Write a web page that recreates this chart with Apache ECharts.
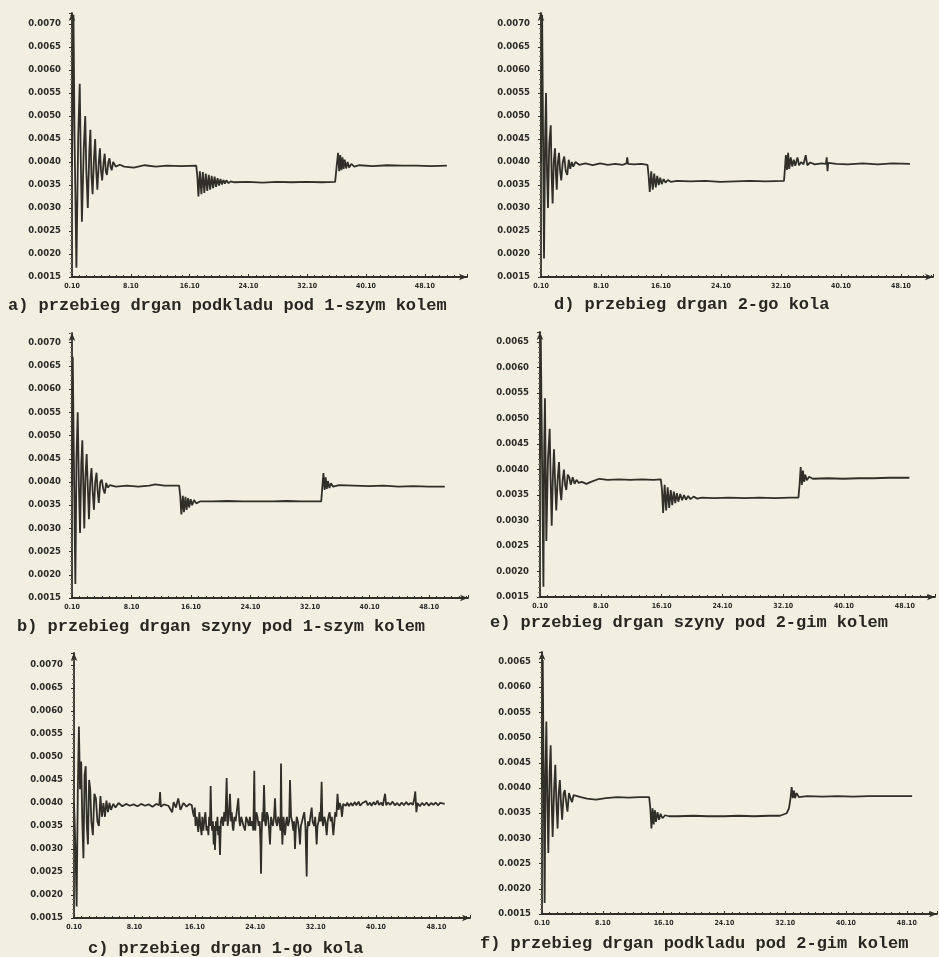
<!DOCTYPE html>
<html><head><meta charset="utf-8">
<script src="https://cdn.jsdelivr.net/npm/echarts@6/dist/echarts.min.js"></script>
<style>html,body{margin:0;padding:0;background:#f2efe1;}#c{width:939px;height:957px;}</style>
</head><body><div id="c"></div>
<script>
// time [s] , displacement values
const seriesA = [[0.1,0.0039],[0.3,0.0072],[0.45,0.0045],[0.7,0.0017],[0.95,0.0046],[1.15,0.0057],[1.3,0.0040],[1.45,0.0027],[1.7,0.0043],[1.9,0.0050],[2.05,0.0038],[2.25,0.0030],[2.45,0.0042],[2.6,0.0047],[2.75,0.0037],[2.9,0.0033],[3.1,0.0041],[3.25,0.0045],[3.4,0.0038],[3.55,0.0034],[3.75,0.0040],[3.9,0.0043],[4.05,0.0038],[4.2,0.0036],[4.4,0.0040],[4.55,0.00418],[4.7,0.0038],[4.85,0.00372],[5.05,0.0040],[5.2,0.00408],[5.35,0.0039],[5.5,0.00382],[5.7,0.0040],[5.85,0.00398],[6.05,0.0039],[6.25,0.00386],[6.6,0.00394],[7.2,0.0039],[8.5,0.00388],[10,0.00393],[11.5,0.0039],[13,0.00392],[15,0.00391],[17.0,0.00392],[17.15,0.0037],[17.3,0.00325],[17.5,0.0038],[17.7,0.0033],[17.9,0.00378],[18.1,0.00333],[18.3,0.00375],[18.5,0.00337],[18.7,0.00372],[18.9,0.0034],[19.1,0.0037],[19.3,0.00343],[19.5,0.00368],[19.7,0.00346],[19.9,0.00365],[20.1,0.00349],[20.3,0.00363],[20.5,0.00351],[20.7,0.00361],[20.9,0.00353],[21.1,0.0036],[21.4,0.00354],[21.7,0.00358],[22.2,0.00356],[24,0.00357],[26,0.00355],[28,0.00357],[30,0.00356],[32,0.00357],[34,0.00356],[35.9,0.00357],[36.1,0.0039],[36.3,0.0042],[36.45,0.0038],[36.6,0.00415],[36.75,0.00382],[36.9,0.0041],[37.05,0.00385],[37.2,0.00405],[37.4,0.00386],[37.6,0.004],[37.8,0.00388],[38.1,0.00396],[38.5,0.0039],[39.2,0.00393],[41,0.00391],[43,0.00393],[45,0.00392],[47,0.00392],[49,0.00391],[51.1,0.00392]];

const seriesB = [[0.1,0.0039],[0.2,0.0067],[0.35,0.0045],[0.55,0.0018],[0.7,0.0045],[0.87,0.0055],[1.02,0.0040],[1.18,0.0029],[1.35,0.0044],[1.49,0.0049],[1.62,0.0039],[1.75,0.0030],[1.9,0.0041],[2.07,0.0046],[2.22,0.0039],[2.38,0.0032],[2.55,0.0040],[2.72,0.0043],[2.88,0.0038],[3.05,0.0034],[3.22,0.0040],[3.4,0.0042],[3.55,0.0038],[3.7,0.00355],[3.9,0.004],[4.1,0.00405],[4.3,0.00385],[4.5,0.00375],[4.7,0.00398],[4.9,0.00388],[5.2,0.00393],[6,0.0039],[7.5,0.00392],[9,0.0039],[10.5,0.00392],[11.3,0.00395],[12.5,0.00392],[14.5,0.00392],[14.65,0.0037],[14.8,0.0033],[15.0,0.0037],[15.15,0.00335],[15.35,0.00368],[15.5,0.0034],[15.7,0.00365],[15.85,0.00345],[16.05,0.00363],[16.25,0.0035],[16.5,0.00361],[16.8,0.00354],[17.3,0.00358],[19,0.00358],[21,0.00359],[23,0.00358],[25,0.00358],[27,0.00358],[29,0.00359],[31,0.00358],[33.6,0.00358],[33.75,0.0039],[33.9,0.00419],[34.05,0.00383],[34.2,0.0041],[34.35,0.00385],[34.5,0.00402],[34.7,0.00387],[34.9,0.00397],[35.2,0.0039],[36,0.00393],[38,0.00392],[40,0.00391],[42,0.00392],[44,0.0039],[46,0.00391],[48,0.0039],[50.2,0.0039]];

const seriesC = [[0.1,0.0040],[0.3,0.0030],[0.45,0.00175],[0.6,0.0042],[0.75,0.00566],[0.9,0.0043],[1.05,0.0049],[1.2,0.0036],[1.35,0.0028],[1.5,0.0046],[1.65,0.0048],[1.8,0.0035],[1.95,0.0031],[2.1,0.0045],[2.25,0.0043],[2.4,0.0036],[2.6,0.0033],[2.8,0.0042],[3.0,0.0041],[3.2,0.0036],[3.4,0.0035],[3.6,0.00415],[3.8,0.0037],[4.0,0.004],[4.2,0.0037],[4.4,0.00405],[4.6,0.0038],[4.8,0.004],[5.0,0.00385],[5.3,0.00398],[5.6,0.0039],[6,0.004],[6.5,0.00393],[7,0.00398],[7.5,0.00394],[8,0.00397],[8.5,0.00393],[9,0.00398],[9.5,0.00394],[10,0.00397],[10.5,0.00392],[11,0.00398],[11.4,0.00395],[11.5,0.00424],[11.6,0.00392],[12,0.00397],[12.6,0.00394],[13.1,0.0038],[13.3,0.00402],[13.6,0.0039],[13.9,0.0041],[14.2,0.00385],[14.6,0.004],[15,0.00392],[15.4,0.00398],[15.7,0.00395],[15.85,0.0038],[16.0,0.0037],[16.1,0.0039],[16.2,0.0035],[16.35,0.0037],[16.56,0.00337],[16.7,0.0038],[16.85,0.0035],[17.0,0.0033],[17.1,0.0037],[17.22,0.0034],[17.35,0.0036],[17.5,0.0038],[17.65,0.0034],[17.8,0.0035],[17.9,0.0033],[18.0,0.0037],[18.1,0.0035],[18.2,0.00437],[18.3,0.0036],[18.4,0.0034],[18.5,0.0036],[18.6,0.0031],[18.7,0.0035],[18.77,0.00298],[18.9,0.0036],[19.0,0.0034],[19.1,0.0037],[19.2,0.0033],[19.3,0.0035],[19.44,0.00287],[19.55,0.0036],[19.7,0.0037],[19.85,0.0035],[20.0,0.0038],[20.15,0.0036],[20.32,0.00454],[20.45,0.0035],[20.6,0.0037],[20.76,0.0042],[20.9,0.0036],[21.0,0.0038],[21.1,0.0035],[21.2,0.0034],[21.35,0.0037],[21.5,0.0036],[21.65,0.0038],[21.86,0.0041],[22.0,0.0036],[22.1,0.0035],[22.25,0.0037],[22.4,0.0036],[22.55,0.0035],[22.75,0.0034],[22.9,0.0037],[23.1,0.0036],[23.25,0.0035],[23.4,0.0037],[23.5,0.0035],[23.7,0.0036],[23.85,0.0034],[23.98,0.0047],[24.05,0.0036],[24.1,0.0034],[24.25,0.0038],[24.4,0.0037],[24.55,0.0035],[24.7,0.0036],[24.8,0.0031],[24.87,0.00246],[24.95,0.0033],[25.05,0.0038],[25.15,0.0036],[25.27,0.00439],[25.4,0.0036],[25.5,0.0035],[25.65,0.0038],[25.8,0.0037],[25.95,0.0034],[26.06,0.0031],[26.2,0.0037],[26.3,0.0036],[26.45,0.0035],[26.6,0.0037],[26.72,0.0041],[26.85,0.0036],[27.0,0.0035],[27.15,0.0037],[27.3,0.0036],[27.45,0.0034],[27.52,0.00486],[27.6,0.0036],[27.7,0.0031],[27.85,0.0037],[27.95,0.0035],[28.05,0.0033],[28.2,0.0036],[28.3,0.0037],[28.45,0.0035],[28.6,0.0036],[28.71,0.0045],[28.85,0.0037],[29.0,0.0036],[29.15,0.0034],[29.25,0.0036],[29.37,0.003],[29.5,0.0035],[29.6,0.0037],[29.75,0.0036],[29.9,0.0034],[30.03,0.0031],[30.15,0.0035],[30.3,0.0036],[30.45,0.0037],[30.6,0.0038],[30.75,0.0035],[30.92,0.0024],[31.0,0.0034],[31.1,0.0036],[31.25,0.0035],[31.4,0.0037],[31.58,0.0039],[31.7,0.0036],[31.9,0.0035],[32.05,0.0037],[32.15,0.0034],[32.24,0.0031],[32.35,0.0035],[32.5,0.0036],[32.65,0.0038],[32.75,0.0036],[32.9,0.00446],[33.0,0.0036],[33.1,0.0035],[33.25,0.0037],[33.4,0.0036],[33.57,0.0033],[33.7,0.0036],[33.8,0.0037],[33.95,0.0038],[34.1,0.0036],[34.25,0.0037],[34.45,0.0033],[34.6,0.0036],[34.7,0.0038],[34.85,0.0037],[35.0,0.0042],[35.15,0.00385],[35.3,0.004],[35.45,0.00392],[35.6,0.0037],[35.75,0.00398],[35.9,0.00402],[36.1,0.00394],[36.3,0.00401],[36.5,0.00393],[36.8,0.004],[37.0,0.00394],[37.3,0.00402],[37.5,0.00395],[37.8,0.00403],[38.0,0.00394],[38.3,0.004],[38.5,0.00396],[38.8,0.00404],[39.0,0.00395],[39.3,0.00401],[39.5,0.00394],[39.8,0.00402],[40.0,0.00396],[40.3,0.00405],[40.5,0.00396],[40.8,0.00401],[41.0,0.00394],[41.2,0.00392],[41.3,0.0042],[41.45,0.00395],[41.7,0.00401],[42,0.00396],[42.3,0.00403],[42.6,0.00395],[42.9,0.004],[43.2,0.00394],[43.5,0.00401],[43.8,0.00395],[44.1,0.00402],[44.4,0.00396],[44.7,0.004],[45.0,0.00396],[45.2,0.00412],[45.3,0.00425],[45.45,0.0038],[45.6,0.004],[45.9,0.00393],[46.2,0.004],[46.5,0.00395],[46.8,0.00401],[47.1,0.00394],[47.4,0.004],[47.7,0.00396],[48,0.00401],[48.3,0.00395],[48.6,0.004],[49.2,0.00398]];

const seriesD = [[0.1,0.0040],[0.25,0.0072],[0.4,0.0040],[0.5,0.0019],[0.65,0.0045],[0.77,0.0055],[0.9,0.0038],[1.03,0.0030],[1.2,0.0044],[1.4,0.0048],[1.52,0.0037],[1.65,0.0031],[1.8,0.0040],[1.97,0.0043],[2.1,0.0037],[2.2,0.0034],[2.35,0.0040],[2.5,0.0042],[2.65,0.0038],[2.8,0.0036],[3.0,0.0040],[3.2,0.00412],[3.4,0.0038],[3.6,0.00372],[3.8,0.00405],[4.0,0.00385],[4.2,0.004],[4.4,0.0039],[4.7,0.004],[5.2,0.00394],[6,0.00397],[7,0.00393],[8,0.00397],[9,0.00394],[10,0.00396],[11,0.00394],[11.5,0.00397],[11.6,0.0041],[11.7,0.00396],[12.5,0.00395],[13.5,0.00396],[14.3,0.00394],[14.45,0.0037],[14.6,0.00335],[14.8,0.0038],[15.0,0.0034],[15.2,0.00375],[15.4,0.00345],[15.6,0.0037],[15.8,0.0035],[16.0,0.00366],[16.2,0.00352],[16.45,0.00363],[16.7,0.00355],[17,0.00361],[17.4,0.00357],[18.2,0.00359],[20,0.00358],[22,0.00359],[24,0.00357],[26,0.00358],[28,0.00359],[30,0.00358],[32.5,0.00359],[32.6,0.0038],[32.75,0.00415],[32.9,0.00383],[33.05,0.0042],[33.2,0.00385],[33.4,0.0041],[33.6,0.0039],[33.8,0.00405],[34.0,0.00392],[34.3,0.0041],[34.5,0.00393],[34.8,0.004],[35.1,0.00395],[35.4,0.00415],[35.6,0.00393],[36,0.00399],[36.6,0.00395],[37.5,0.00397],[38.1,0.00396],[38.2,0.0041],[38.3,0.0038],[38.4,0.00398],[39.5,0.00396],[41,0.00395],[43,0.00397],[45,0.00395],[47,0.00397],[49.3,0.00396]];

const seriesE = [[0.1,0.0042],[0.2,0.0066],[0.35,0.0045],[0.55,0.0017],[0.65,0.0044],[0.75,0.0054],[0.85,0.0040],[0.93,0.0026],[1.15,0.0042],[1.37,0.0048],[1.5,0.0038],[1.64,0.0029],[1.8,0.0039],[1.94,0.0044],[2.1,0.0037],[2.24,0.0032],[2.42,0.0038],[2.6,0.00415],[2.75,0.0036],[2.9,0.0034],[3.08,0.0038],[3.25,0.004],[3.4,0.0037],[3.56,0.0036],[3.75,0.0039],[3.95,0.00385],[4.15,0.0037],[4.4,0.00385],[4.65,0.00372],[4.9,0.0038],[5.2,0.00374],[5.6,0.00376],[6.2,0.00372],[6.8,0.00376],[7.9,0.00382],[9,0.0038],[10.5,0.00381],[12,0.0038],[13.5,0.00381],[15,0.0038],[16.0,0.00381],[16.15,0.0036],[16.3,0.00315],[16.5,0.0037],[16.7,0.0032],[16.9,0.00365],[17.1,0.00325],[17.3,0.0036],[17.5,0.0033],[17.7,0.00357],[17.9,0.00334],[18.1,0.00354],[18.3,0.00337],[18.55,0.00352],[18.8,0.0034],[19.05,0.0035],[19.3,0.00341],[19.6,0.00348],[19.9,0.00342],[20.3,0.00347],[20.8,0.00343],[21.4,0.00345],[23,0.00344],[25,0.00345],[27,0.00344],[29,0.00345],[31,0.00344],[33,0.00345],[34.1,0.00345],[34.25,0.0037],[34.4,0.00405],[34.55,0.0037],[34.7,0.00398],[34.85,0.00376],[35.0,0.0039],[35.2,0.00379],[35.5,0.00386],[36,0.00382],[38,0.00383],[40,0.00382],[42,0.00383],[44,0.00383],[46,0.00384],[48.7,0.00384]];

const seriesF = [[0.1,0.0040],[0.2,0.00654],[0.3,0.0045],[0.45,0.00172],[0.55,0.0042],[0.67,0.00532],[0.8,0.0038],[0.93,0.00271],[1.1,0.0043],[1.24,0.00485],[1.38,0.0037],[1.5,0.00303],[1.7,0.0040],[1.85,0.00446],[2.0,0.0037],[2.15,0.0032],[2.3,0.0039],[2.45,0.00416],[2.6,0.0037],[2.75,0.00337],[2.95,0.0039],[3.1,0.00396],[3.3,0.0037],[3.45,0.00353],[3.65,0.0039],[3.85,0.0038],[4.05,0.00372],[4.25,0.00386],[4.5,0.00383],[5.2,0.00382],[6,0.00379],[7.2,0.00377],[8.5,0.0038],[10,0.00382],[11.5,0.00381],[13,0.00382],[14.2,0.00382],[14.35,0.0036],[14.5,0.0032],[14.65,0.0036],[14.8,0.00328],[14.95,0.00356],[15.1,0.00333],[15.3,0.00352],[15.5,0.00337],[15.7,0.00349],[15.95,0.0034],[16.3,0.00346],[16.8,0.00344],[18,0.00344],[20,0.00345],[22,0.00344],[24,0.00344],[26,0.00345],[28,0.00344],[30,0.00345],[31.4,0.00345],[32.3,0.0035],[32.6,0.0036],[32.8,0.0038],[32.95,0.00402],[33.1,0.0038],[33.25,0.00395],[33.4,0.0038],[33.6,0.0039],[33.9,0.00382],[35,0.00384],[37,0.00383],[39,0.00384],[41,0.00383],[43,0.00384],[45,0.00384],[47,0.00384],[48.8,0.00384]];

const captions = [
  'a) przebieg drgan podkladu pod 1-szym kolem',
  'b) przebieg drgan szyny pod 1-szym kolem',
  'c) przebieg drgan 1-go kola',
  'd) przebieg drgan 2-go kola',
  'e) przebieg drgan szyny pod 2-gim kolem',
  'f) przebieg drgan podkladu pod 2-gim kolem'
];
const xMin = 0.1, xStep = 8;
const yMin = 0.0015, yStep = 0.0005;

const panels = [
  {data: seriesA, grid:{left:72, top:13, width:395, height:264}, xMax:53.84, yMax:0.00724, cap:captions[0], cx:8,   cy:307},
  {data: seriesB, grid:{left:72, top:333, width:396, height:265}, xMax:53.33, yMax:0.00721, cap:captions[1], cx:17,  cy:628},
  {data: seriesC, grid:{left:74, top:653, width:396, height:265}, xMax:52.55, yMax:0.00726, cap:captions[2], cx:88,  cy:950},
  {data: seriesD, grid:{left:541, top:13, width:392, height:264}, xMax:52.37, yMax:0.00724, cap:captions[3], cx:554, cy:306},
  {data: seriesE, grid:{left:540, top:332, width:395, height:265}, xMax:52.07, yMax:0.0067, cap:captions[4], cx:490, cy:624},
  {data: seriesF, grid:{left:542, top:652, width:395, height:262}, xMax:52.07, yMax:0.0067, cap:captions[5], cx:480, cy:945}
];

const ink = '#302f29';
const chart = echarts.init(document.getElementById('c'));
const option = {
  backgroundColor: '#f2efe1',
  animation: false,
  grid: panels.map(p => p.grid),
  xAxis: panels.map((p, i) => ({
    type: 'value', gridIndex: i, min: xMin, max: p.xMax, interval: xStep,
    splitLine: {show: false},
    axisLine: {lineStyle: {color: ink, width: 1.8}, symbol: ['none', 'arrow'], symbolSize: [5, 8]},
    axisTick: {inside: true, length: 3, lineStyle: {color: ink}},
    minorTick: {show: true, splitNumber: 8, length: 2, lineStyle: {color: ink}},
    axisLabel: {showMaxLabel: false, margin: 6, color: '#2b2b27', fontSize: 7, fontWeight: 'bold',
      fontFamily: 'DejaVu Sans Condensed, DejaVu Sans, sans-serif', formatter: v => v.toFixed(2)}
  })),
  yAxis: panels.map((p, i) => ({
    type: 'value', gridIndex: i, min: yMin, max: p.yMax, interval: yStep,
    splitLine: {show: false},
    axisLine: {lineStyle: {color: ink, width: 1.8}, symbol: ['none', 'arrow'], symbolSize: [5, 8]},
    axisTick: {length: 3, lineStyle: {color: ink}},
    minorTick: {show: true, splitNumber: 5, length: 2, lineStyle: {color: '#77756a'}},
    axisLabel: {showMaxLabel: false, margin: 11, color: '#2b2b27', fontSize: 8.5, fontWeight: 'bold',
      fontFamily: 'DejaVu Sans, sans-serif', formatter: v => v.toFixed(4)}
  })),
  series: panels.map((p, i) => ({
    type: 'line', xAxisIndex: i, yAxisIndex: i, data: p.data, showSymbol: false, symbol: 'none',
    lineStyle: {color: ink, width: 1.8}, silent: true
  })),
  graphic: panels.map(p => ({
    type: 'text', left: p.cx, top: p.cy - 10,
    style: {text: p.cap, fill: '#282722', font: 'bold 17px "Liberation Mono", "DejaVu Sans Mono", monospace'}
  }))
};
chart.setOption(option);
</script></body></html>
